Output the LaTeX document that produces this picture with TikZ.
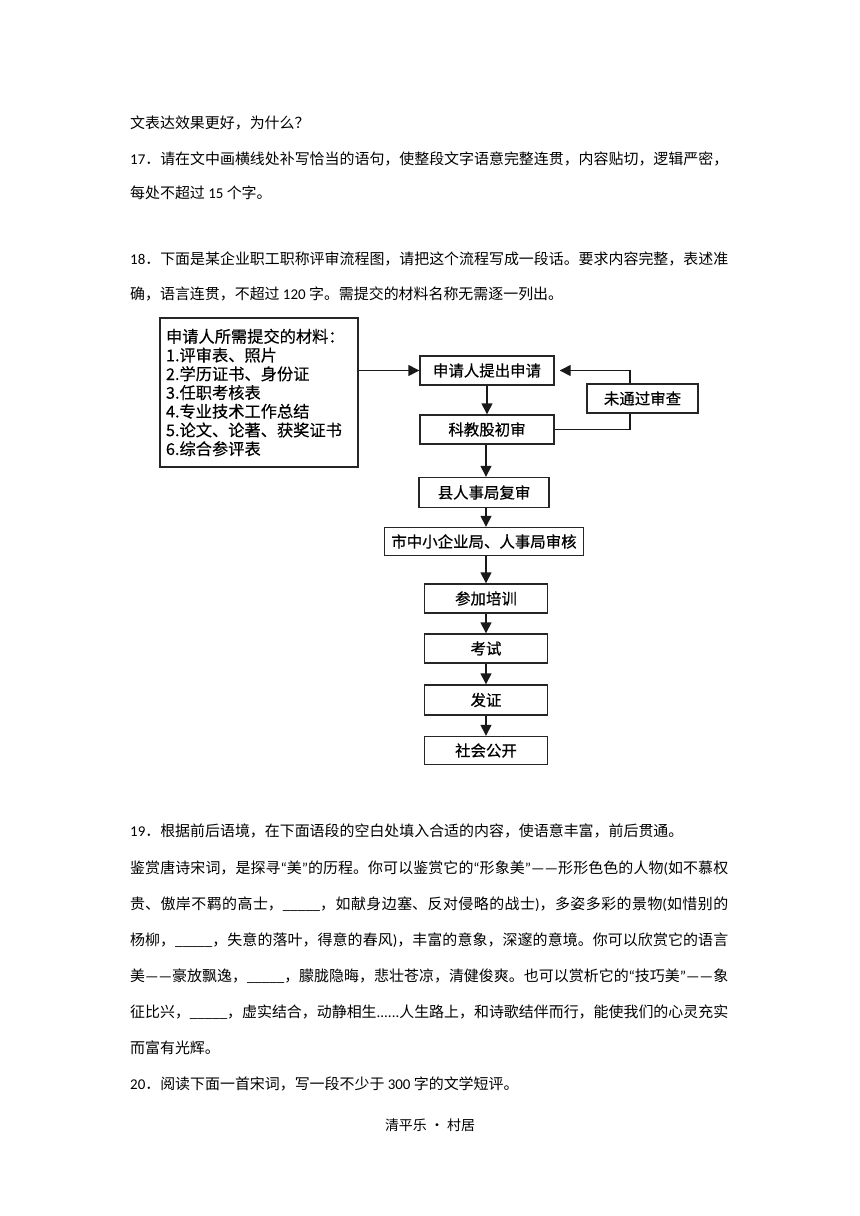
\documentclass[tikz,border=0pt]{standalone}
\usepackage{fontspec}
\setmainfont{Noto Sans CJK SC}
\newfontfamily\lat{Carlito}
\newfontfamily\boxf[FakeBold=0.5]{Noto Sans CJK SC}
\newfontfamily\matf[FakeBold=0.25]{Noto Sans CJK SC}
\usetikzlibrary{arrows.meta,calc}
\XeTeXlinebreaklocale "zh"
\XeTeXlinebreakskip=0pt plus 4pt minus 0.6pt
\newcommand{\jline}[1]{\parbox[b]{598bp}{\parfillskip=0pt\relax\parindent=0pt\noindent #1}}
\begin{document}
\begin{tikzpicture}[x=1bp,y=-1bp,
  body/.style={anchor=base west, inner sep=0pt, font=\fontsize{15}{18}\selectfont},
  box/.style={draw=black!85, line width=1.4bp, inner sep=0pt, text=black,
    font=\boxf\fontsize{15.5}{18}\selectfont},
  arr/.style={line width=1.4bp, draw=black!90, -{Triangle[length=11bp,width=11bp]}},
  ln/.style={line width=1.4bp, draw=black!90}]
\fill[white] (0,0) rectangle (860,1216);
\useasboundingbox (0,0) rectangle (860,1216);

% top text
\node[body] (t1) at (130,128) {文表达效果更好，为什么？};
\node[body] (t2) at (130,164) {\jline{{\lat 17}．请在文中画横线处补写恰当的语句，使整段文字语意完整连贯，内容贴切，逻辑严密，}};
\node[body] (t3) at (130,198) {每处不超过 {\lat 15} 个字。};
\node[body] (t4) at (130,264) {\jline{{\lat 18}．下面是某企业职工职称评审流程图，请把这个流程写成一段话。要求内容完整，表述准}};
\node[body] (t5) at (130,299) {确，语言连贯，不超过 {\lat 120} 字。需提交的材料名称无需逐一列出。};

% flowchart
\node[box, minimum width=198bp, minimum height=149bp, align=left,
  font=\matf\fontsize{16.3}{18.8}\selectfont] (mat) at (259,392.5)
  {\parbox{186bp}{申请人所需提交的材料：\\1.评审表、照片\\2.学历证书、身份证\\3.任职考核表\\4.专业技术工作总结\\5.论文、论著、获奖证书\\6.综合参评表}};
\node[box, minimum width=134bp, minimum height=29bp] (apply) at (487,370.5) {申请人提出申请};
\node[box, minimum width=111bp, minimum height=29bp] (reject) at (642.5,398.5) {未通过审查};
\node[box, minimum width=134bp, minimum height=29bp] (kejiao) at (487,429.5) {科教股初审};
\node[box, minimum width=130bp, minimum height=30bp] (county) at (484,492.5) {县人事局复审};
\node[box, minimum width=199bp, minimum height=28bp] (city) at (484,541.5) {市中小企业局、人事局审核};
\node[box, minimum width=123bp, minimum height=29bp] (train) at (486,598.5) {参加培训};
\node[box, minimum width=123bp, minimum height=29bp] (exam) at (486,648.5) {考试};
\node[box, minimum width=123bp, minimum height=30bp] (cert) at (486,700) {发证};
\node[box, minimum width=123bp, minimum height=28bp] (public) at (486,750.5) {社会公开};

\coordinate (lx) at (630,0);
\draw[arr] (mat.east |- apply.west) -- (apply.west);
\draw[arr] (apply.south) -- (kejiao.north);
\draw[arr] (kejiao.south -| 486,0) -- (county.north -| 486,0);
\draw[arr] (county.south -| 486,0) -- (city.north -| 486,0);
\draw[arr] (city.south -| 486,0) -- (train.north);
\draw[arr] (train.south) -- (exam.north);
\draw[arr] (exam.south) -- (cert.north);
\draw[arr] (cert.south) -- (public.north);
\draw[ln] (kejiao.east) -- (kejiao.east -| lx) -- (reject.south -| lx);
\draw[arr, shorten >=5bp] (reject.north -| lx) -- (apply.east -| lx) -- (apply.east);

% lower text
\node[body] (p0) at (130,836) {{\lat 19}．根据前后语境，在下面语段的空白处填入合适的内容，使语意丰富，前后贯通。};
\node[body] (p1) at (130,873) {\jline{鉴赏唐诗宋词，是探寻{\lat “}美{\lat ”}的历程。你可以鉴赏它的{\lat “}形象美{\lat ”——}形形色色的人物{\lat (}如不慕权}};
\node[body] (p2) at (130,909) {\jline{贵、傲岸不羁的高士，{\lat \_\_\_\_\_}，如献身边塞、反对侵略的战士{\lat )}，多姿多彩的景物{\lat (}如惜别的}};
\node[body] (p3) at (130,945) {\jline{杨柳，{\lat \_\_\_\_\_}，失意的落叶，得意的春风{\lat )}，丰富的意象，深邃的意境。你可以欣赏它的语言}};
\node[body] (p4) at (130,981) {\jline{美{\lat ——}豪放飘逸，{\lat \_\_\_\_\_}，朦胧隐晦，悲壮苍凉，清健俊爽。也可以赏析它的{\lat “}技巧美{\lat ”——}象}};
\node[body] (p5) at (130,1017) {\jline{征比兴，{\lat \_\_\_\_\_}，虚实结合，动静相生{\lat ......}人生路上，和诗歌结伴而行，能使我们的心灵充实}};
\node[body] (p6) at (130,1053) {而富有光辉。};
\node[body] (p7) at (130,1089) {{\lat 20}．阅读下面一首宋词，写一段不少于 {\lat 300} 字的文学短评。};
\node[anchor=base, inner sep=0pt, font=\fontsize{14}{17}\selectfont] (title) at (430,1130) {清平乐 • 村居};
\end{tikzpicture}
\end{document}
